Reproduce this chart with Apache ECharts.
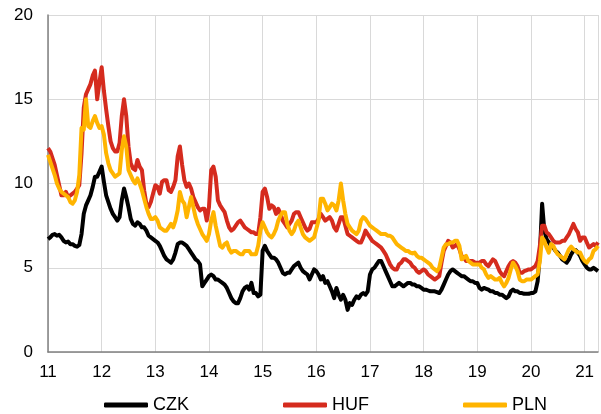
<!DOCTYPE html>
<html>
<head>
<meta charset="utf-8">
<script src="https://cdn.jsdelivr.net/npm/echarts@6.0.0/dist/echarts.min.js"></script>
<style>
  html, body { margin: 0; padding: 0; background: #fff; }
  #chart { width: 601px; height: 414px; }
</style>
</head>
<body>
<div id="chart"></div>
<script>
// half-monthly readings, 2011.0 .. 2021.25
var startYear = 11;
var perYear = 24;

var czk = [
  6.7, 6.8, 6.95, 7.0, 6.9, 6.95, 6.8, 6.6, 6.5, 6.55, 6.4, 6.4, 6.3, 6.25, 6.35, 7.0, 8.2, 8.7, 9.0, 9.3, 9.8, 10.4, 10.4, 10.7,
  11.0, 10.1, 9.3, 8.9, 8.5, 8.2, 8.0, 7.8, 8.0, 9.0, 9.7, 9.2, 8.6, 7.9, 7.6, 7.5, 7.7, 7.6, 7.4, 7.4, 7.2, 6.9, 6.8, 6.7,
  6.6, 6.5, 6.3, 6.0, 5.7, 5.5, 5.4, 5.3, 5.5, 5.9, 6.4, 6.5, 6.5, 6.4, 6.3, 6.1, 5.9, 5.7, 5.5, 5.4, 5.2, 3.9, 4.1, 4.3,
  4.5, 4.6, 4.5, 4.3, 4.3, 4.2, 4.1, 4.0, 3.8, 3.5, 3.2, 3.0, 2.9, 2.9, 3.2, 3.6, 3.8, 3.9, 3.7, 4.1, 3.5, 3.5, 3.3, 3.4,
  6.0, 6.3, 6.0, 5.8, 5.6, 5.6, 5.5, 5.3, 5.0, 4.7, 4.6, 4.7, 4.7, 4.9, 5.1, 5.2, 5.3, 5.0, 4.8, 4.7, 4.6, 4.3, 4.6, 4.9,
  4.8, 4.6, 4.3, 4.5, 4.1, 4.2, 3.9, 3.6, 3.2, 3.8, 3.4, 3.1, 3.4, 3.1, 2.5, 2.9, 2.8, 3.1, 3.3, 3.2, 3.4, 3.5, 3.4, 3.6,
  4.6, 4.9, 5.0, 5.2, 5.4, 5.4, 5.1, 4.8, 4.5, 4.2, 3.9, 3.9, 4.0, 4.1, 4.0, 3.9, 4.0, 4.1, 4.1, 4.0, 4.0, 3.9, 3.9, 3.8,
  3.7, 3.7, 3.65, 3.6, 3.6, 3.6, 3.55, 3.5, 3.7, 4.0, 4.3, 4.6, 4.8, 4.9, 4.8, 4.7, 4.6, 4.5, 4.5, 4.4, 4.3, 4.2, 4.2, 4.1,
  4.1, 3.8, 3.7, 3.8, 3.75, 3.7, 3.6, 3.6, 3.5, 3.5, 3.4, 3.4, 3.3, 3.2, 3.3, 3.6, 3.7, 3.6, 3.6, 3.5, 3.5, 3.45, 3.45, 3.45,
  3.5, 3.5, 3.6, 4.2, 5.8, 8.8, 7.2, 6.7, 6.5, 6.3, 6.2, 6.0, 5.9, 5.7, 5.5, 5.4, 5.3, 5.5, 5.8, 6.0, 6.05, 5.9, 5.7, 5.4,
  5.2, 5.0, 4.9, 4.9, 5.0, 4.9, 4.8
];

var huf = [
  12.1, 11.9, 11.5, 11.1, 10.5, 9.9, 9.3, 9.3, 9.5, 9.2, 9.3, 9.4, 9.5, 9.7, 9.9, 11.8, 14.5, 15.3, 15.6, 15.9, 16.4, 16.7, 15.0, 16.0,
  16.9, 15.5, 14.4, 13.4, 12.5, 12.1, 11.9, 11.9, 12.4, 14.0, 15.0, 14.0, 12.2, 11.2, 10.9, 10.8, 11.4, 11.0, 10.8, 9.6, 8.8, 8.6, 8.9, 9.4,
  9.9, 9.8, 9.4, 10.1, 10.2, 10.2, 9.6, 9.5, 9.8, 10.2, 11.6, 12.2, 11.1, 10.2, 9.8, 10.0, 9.7, 9.2, 8.9, 8.6, 8.4, 8.5, 8.5, 7.8,
  8.6, 10.8, 11.0, 10.4, 9.0, 8.7, 8.5, 8.3, 7.8, 7.4, 7.2, 7.3, 7.5, 7.7, 7.8, 7.6, 7.4, 7.3, 7.2, 7.1, 7.1, 7.0, 7.0, 8.0,
  9.5, 9.7, 9.2, 8.5, 8.7, 8.6, 8.2, 8.5, 8.2, 7.8, 7.6, 7.4, 7.6, 7.8, 8.2, 8.3, 8.3, 8.0, 7.7, 7.4, 7.2, 7.3, 7.7, 7.7,
  7.7, 7.9, 8.2, 8.0, 7.8, 7.9, 8.0, 7.8, 7.4, 7.2, 7.6, 8.0, 8.0, 7.5, 7.0, 6.9, 6.8, 6.7, 6.6, 6.5, 6.5, 6.8, 7.2, 7.0,
  6.8, 6.6, 6.5, 6.4, 6.3, 6.2, 6.0, 5.8, 5.5, 5.2, 5.0, 4.9, 4.9, 5.2, 5.3, 5.5, 5.5, 5.4, 5.3, 5.1, 5.0, 4.8, 4.7, 4.8,
  4.9, 4.8, 4.6, 4.5, 4.4, 4.3, 4.4, 4.5, 5.3, 6.0, 6.3, 6.6, 6.5, 6.2, 6.3, 6.4, 6.1, 5.7, 5.6, 5.4, 5.4, 5.4, 5.4, 5.3,
  5.3, 5.3, 5.4, 5.4, 5.2, 5.1, 5.3, 5.5, 5.4, 5.1, 4.8, 4.6, 4.5, 4.8, 5.1, 5.3, 5.4, 5.3, 5.1, 4.7, 4.7, 4.8, 4.85, 4.9,
  4.9, 5.0, 5.1, 5.4, 6.3, 7.5, 7.5, 7.1, 7.0, 6.8, 6.6, 6.5, 6.5, 6.5, 6.6, 6.6, 6.8, 7.0, 7.3, 7.6, 7.3, 7.1, 6.6, 6.8,
  6.8, 6.5, 6.2, 6.3, 6.4, 6.3, 6.5
];

var pln = [
  11.7, 11.3, 10.9, 10.5, 10.0, 9.7, 9.5, 9.4, 9.3, 9.2, 8.9, 8.8, 9.0, 9.5, 10.5, 13.3, 13.2, 15.0, 13.4, 13.3, 13.7, 14.0, 13.6, 13.3,
  13.4, 12.9, 11.8, 11.2, 10.8, 10.6, 10.4, 10.5, 10.6, 12.0, 12.8, 12.2, 10.8, 10.5, 10.2, 10.0, 10.3, 10.0, 9.6, 9.1, 8.6, 8.2, 7.9, 7.9,
  8.0, 7.8, 7.4, 7.3, 7.2, 7.2, 7.4, 7.6, 7.4, 7.8, 8.4, 9.5, 9.0, 8.8, 8.0, 8.6, 9.2, 8.6, 8.0, 7.6, 7.3, 7.0, 6.8, 6.6,
  7.0, 7.8, 8.3, 7.5, 6.9, 6.3, 6.2, 6.4, 6.5, 6.1, 5.9, 6.0, 6.0, 5.9, 5.8, 5.8, 6.0, 6.0, 6.0, 5.8, 5.8, 5.8, 6.3, 7.2,
  7.7, 7.4, 7.1, 6.9, 6.8, 7.0, 7.3, 7.8, 8.1, 8.3, 8.3, 7.6, 7.2, 7.0, 7.2, 7.6, 7.8, 7.4, 7.0, 6.8, 6.7, 6.6, 6.7, 6.8,
  7.3, 7.8, 9.1, 9.1, 8.8, 8.4, 8.6, 8.8, 8.7, 8.4, 9.0, 10.0, 9.0, 8.2, 7.6, 7.4, 7.2, 7.1, 7.0, 7.2, 7.8, 8.0, 7.9, 7.7,
  7.5, 7.4, 7.3, 7.2, 7.1, 7.0, 7.0, 7.0, 6.9, 6.9, 6.8, 6.6, 6.4, 6.3, 6.2, 6.1, 6.0, 6.0, 5.9, 5.85, 5.9, 5.7, 5.6, 5.6,
  5.5, 5.4, 5.3, 5.2, 5.0, 4.9, 4.8, 5.0, 5.6, 6.2, 6.4, 6.4, 6.5, 6.5, 6.6, 6.6, 6.3, 5.5, 5.6, 5.7, 5.4, 5.3, 5.2, 5.2,
  5.2, 5.2, 5.0, 4.9, 4.6, 4.4, 4.5, 4.4, 4.3, 4.3, 4.4, 4.1, 3.9, 4.1, 4.4, 4.9, 5.3, 5.1, 4.8, 4.3, 4.2, 4.2, 4.3, 4.3,
  4.3, 4.4, 4.5, 4.6, 5.4, 6.8, 6.6, 6.2, 5.9, 6.4, 6.3, 6.0, 5.8, 5.7, 5.6, 5.5, 5.8, 6.1, 6.25, 6.1, 6.0, 5.9, 5.9, 5.6,
  5.4, 5.3, 5.5, 5.6, 6.0, 6.1, 6.3
];

var seriesNames = ['CZK', 'HUF', 'PLN'];
var seriesColors = ['#000000', '#d52b1e', '#ffb400'];

function pairs(values) {
  var out = [];
  for (var i = 0; i < values.length; i++) {
    out.push([startYear + i / perYear, values[i]]);
  }
  return out;
}

var chart = echarts.init(document.getElementById('chart'));
var font = 'Liberation Sans, Arial, sans-serif';

chart.setOption({
  animation: false,
  grid: { left: 48, right: 0, top: 15, bottom: 62 },
  legend: {
    left: 104,
    top: 396,
    padding: 0,
    icon: 'roundRect',
    itemWidth: 44,
    itemHeight: 5,
    itemGap: 94,
    textStyle: { fontFamily: font, fontSize: 18, color: '#000' },
    data: seriesNames
  },
  xAxis: {
    type: 'value',
    min: 11,
    max: 21.25,
    interval: 1,
    axisLine: { show: true, lineStyle: { color: '#808080', width: 1.5 } },
    axisTick: { show: false },
    axisLabel: {
      margin: 12,
      fontFamily: font,
      fontSize: 17,
      color: '#000',
      formatter: function (v) { return Math.abs(v - Math.round(v)) < 1e-6 ? String(Math.round(v)) : ''; }
    },
    splitLine: { show: true, lineStyle: { color: '#d9d9d9', width: 1 } }
  },
  yAxis: {
    type: 'value',
    min: 0,
    max: 20,
    interval: 5,
    axisLine: { show: true, lineStyle: { color: '#808080', width: 1.5 } },
    axisTick: { show: false },
    axisLabel: { margin: 15, fontFamily: font, fontSize: 17, color: '#000' },
    splitLine: { show: true, lineStyle: { color: '#d9d9d9', width: 1 } }
  },
  series: [czk, huf, pln].map(function (vals, k) {
    return {
      name: seriesNames[k],
      type: 'line',
      data: pairs(vals),
      showSymbol: false,
      symbol: 'none',
      color: seriesColors[k],
      lineStyle: { color: seriesColors[k], width: 4, join: 'round' }
    };
  })
});
</script>
</body>
</html>
